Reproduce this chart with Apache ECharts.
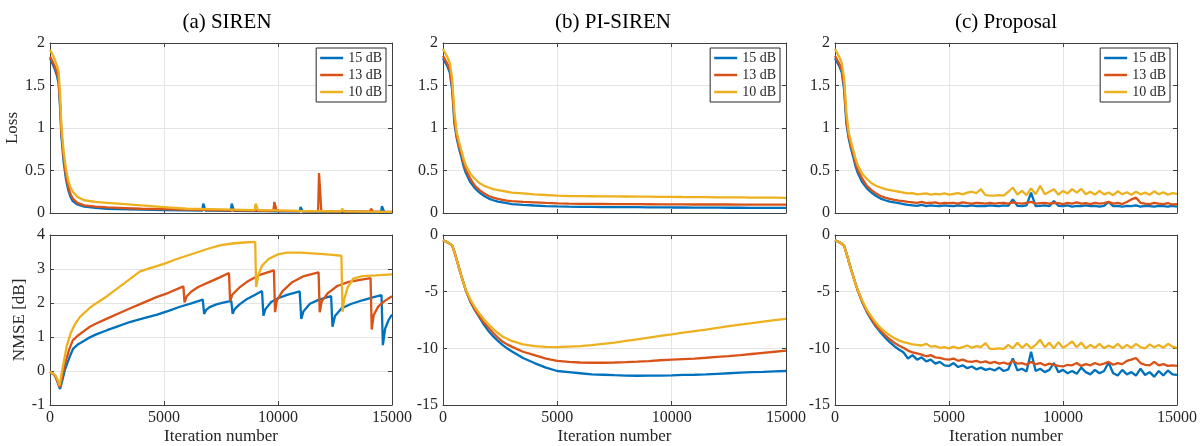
<!DOCTYPE html>
<html><head><meta charset="utf-8">
<script src="https://cdn.jsdelivr.net/npm/echarts@6/dist/echarts.min.js"></script>
<style>html,body{margin:0;padding:0;background:#fff}#c{width:1202px;height:446px}</style>
</head><body><div id="c"></div><script>
// ---------------- DATA ----------------
const seriesNames = ['15 dB', '13 dB', '10 dB'];
const panelTitles = ['(a) SIREN', '(b) PI-SIREN', '(c) Proposal'];
const xTicks = [0, 5000, 10000, 15000];
const lossTicks = [0, 0.5, 1, 1.5, 2];
const nmseTicksSiren = [-1, 0, 1, 2, 3, 4];
const nmseTicksOther = [-15, -10, -5, 0];

const earlyIter = [0,100,200,300,400,500,600,700,800,900,1000,1200,1400,1600,1800,2000,2200,2400,2600,2800,3000];
const piLateIter = [3500,4000,4500,5000,5500,6000,6500,7000,7500,8000,8500,9000,9500,10000,10500,11000,11500,12000,12500,13000,13500,14000,14500,15000];
const propLateIter = [3200,3400,3600,3800,4000,4200,4400,4600,4800,5000,
  5200,5400,5600,5800,6000,6200,6400,6600,6800,7000,
  7200,7400,7600,7800,8000,8200,8400,8600,8800,9000,
  9200,9400,9600,9800,10000,10200,10400,10600,10800,11000,
  11200,11400,11600,11800,12000,12200,12400,12600,12800,13000,
  13200,13400,13600,13800,14000,14200,14400,14600,14800,15000];

// (a) SIREN loss  [iteration, loss]
const sirenLoss15 = [[0,1.82],[100,1.76],[200,1.70],[300,1.62],[380,1.52],[450,1.2],[500,0.9],[600,0.6],[700,0.4],[800,0.27],[900,0.19],[1000,0.14],[1200,0.1],[1500,0.075],[2000,0.06],[2500,0.05],[3000,0.045],[4000,0.04],[5000,0.035],[6000,0.03],[6680,0.029],[6720,0.11],[6780,0.11],[6820,0.029],[7000,0.028],[7930,0.026],[7970,0.11],[8030,0.11],[8070,0.025],[9000,0.022],[9290,0.022],[9330,0.035],[9380,0.022],[10000,0.02],[10950,0.019],[10990,0.07],[11040,0.07],[11080,0.018],[12000,0.016],[12340,0.015],[12380,0.035],[12420,0.015],[13000,0.014],[14000,0.012],[14520,0.012],[14560,0.08],[14620,0.08],[14660,0.011],[15000,0.01]];
const sirenLoss13 = [[0,1.84],[100,1.79],[200,1.73],[300,1.66],[380,1.56],[450,1.25],[500,0.95],[600,0.65],[700,0.44],[800,0.31],[900,0.22],[1000,0.17],[1200,0.12],[1500,0.09],[2000,0.075],[2500,0.065],[3000,0.06],[4000,0.05],[5000,0.045],[5840,0.04],[5870,0.055],[5910,0.04],[6000,0.04],[7000,0.035],[7830,0.031],[7860,0.045],[7900,0.03],[9000,0.028],[9800,0.025],[9840,0.13],[9900,0.13],[9940,0.025],[11000,0.022],[11760,0.02],[11800,0.47],[11860,0.47],[11900,0.02],[13000,0.018],[14040,0.015],[14080,0.05],[14130,0.05],[14170,0.015],[15000,0.013]];
const sirenLoss10 = [[0,1.92],[100,1.87],[200,1.81],[300,1.74],[380,1.66],[450,1.35],[500,1.02],[600,0.72],[700,0.52],[800,0.38],[900,0.3],[1000,0.25],[1200,0.19],[1500,0.15],[2000,0.13],[2500,0.12],[3000,0.11],[4000,0.09],[5000,0.07],[6000,0.05],[7000,0.045],[8000,0.04],[8980,0.035],[9020,0.11],[9080,0.11],[9120,0.034],[10000,0.03],[11000,0.025],[12000,0.022],[12770,0.02],[12810,0.05],[12860,0.05],[12900,0.02],[14000,0.016],[15000,0.014]];

// (a) SIREN NMSE [iteration, dB]
const sirenNmse15 = [[0,-0.02],[220,-0.14],[300,-0.27],[440,-0.53],[550,-0.25],[660,0.05],[880,0.45],[1020,0.66],[1200,0.77],[1500,0.89],[1750,0.99],[2000,1.07],[2500,1.2],[3000,1.32],[3500,1.44],[4000,1.53],[4700,1.66],[5200,1.77],[5700,1.89],[6200,1.99],[6700,2.1],[6760,1.68],[6850,1.80],[7000,1.88],[7300,1.96],[7600,2.01],[7950,2.06],[8010,1.68],[8100,1.82],[8300,1.95],[8600,2.10],[9000,2.24],[9300,2.35],[9360,1.63],[9450,1.82],[9700,2.03],[10000,2.14],[10400,2.24],[10950,2.34],[11020,1.53],[11120,1.76],[11400,1.98],[11800,2.1],[12330,2.2],[12390,1.30],[12500,1.62],[12800,1.85],[13200,1.97],[13700,2.08],[14200,2.17],[14540,2.23],[14600,0.76],[14700,1.25],[14850,1.50],[15000,1.66]];
const sirenNmse13 = [[0,-0.02],[220,-0.13],[300,-0.25],[430,-0.48],[540,-0.15],[650,0.2],[850,0.65],[1000,0.9],[1200,1.03],[1500,1.18],[1750,1.3],[2000,1.39],[2500,1.54],[3000,1.69],[3500,1.84],[4000,1.98],[4700,2.18],[5200,2.3],[5850,2.49],[5900,2.02],[6000,2.2],[6200,2.34],[6500,2.47],[7000,2.62],[7400,2.74],[7850,2.88],[7900,2.05],[8000,2.25],[8300,2.45],[8700,2.65],[9200,2.83],[9820,2.96],[9870,1.73],[9950,2.08],[10200,2.35],[10600,2.6],[11100,2.78],[11780,2.9],[11830,1.73],[11920,2.05],[12200,2.3],[12600,2.5],[13100,2.62],[13600,2.68],[14060,2.73],[14110,1.22],[14200,1.65],[14400,1.9],[14700,2.07],[15000,2.2]];
const sirenNmse10 = [[0,-0.02],[220,-0.12],[300,-0.2],[420,-0.43],[530,0.0],[730,0.73],[900,1.1],[1100,1.38],[1300,1.58],[1460,1.68],[1750,1.86],[2000,1.98],[2500,2.2],[3000,2.45],[3500,2.7],[3950,2.93],[4500,3.05],[5000,3.15],[5500,3.28],[6000,3.39],[6500,3.5],[7000,3.61],[7500,3.7],[8000,3.75],[8500,3.78],[9000,3.8],[9040,2.47],[9150,2.85],[9300,3.1],[9600,3.3],[10000,3.43],[10400,3.48],[11000,3.48],[11500,3.46],[12000,3.44],[12500,3.41],[12780,3.39],[12830,1.74],[12900,2.1],[13050,2.45],[13300,2.72],[13700,2.79],[14300,2.81],[15000,2.84]];

// (b) PI-SIREN loss (earlyIter + piLateIter)
const piLoss15 = [1.82,1.77,1.72,1.65,1.45,1.05,0.88,0.76,0.66,0.55,0.47,0.36,0.29,0.24,0.20,0.17,0.15,0.135,0.125,0.115,0.105,
  0.095,0.088,0.082,0.078,0.075,0.073,0.072,0.07,0.07,0.068,0.068,0.067,0.066,0.065,0.065,0.064,0.063,0.063,0.062,0.062,0.061,0.061,0.06,0.06];
const piLoss13 = [1.85,1.80,1.75,1.68,1.50,1.10,0.90,0.79,0.70,0.59,0.51,0.40,0.32,0.27,0.23,0.20,0.18,0.165,0.155,0.145,0.14,
  0.13,0.125,0.118,0.113,0.11,0.108,0.107,0.106,0.105,0.104,0.104,0.103,0.102,0.102,0.101,0.1,0.1,0.1,0.1,0.099,0.099,0.098,0.098,0.098];
const piLoss10 = [1.93,1.88,1.83,1.76,1.58,1.18,0.95,0.84,0.74,0.64,0.56,0.46,0.40,0.35,0.32,0.30,0.28,0.27,0.26,0.25,0.24,
  0.23,0.22,0.212,0.205,0.2,0.198,0.197,0.196,0.195,0.194,0.193,0.192,0.19,0.19,0.188,0.187,0.186,0.185,0.184,0.183,0.182,0.181,0.18,0.178];

// (b) PI-SIREN NMSE (earlyIter + piLateIter)
const piNmse15 = [-0.45,-0.55,-0.65,-0.78,-0.92,-1.5,-2.2,-2.9,-3.6,-4.25,-4.9,-5.9,-6.65,-7.3,-7.95,-8.5,-8.95,-9.35,-9.7,-10.0,-10.25,
  -10.85,-11.3,-11.7,-12.0,-12.1,-12.2,-12.3,-12.33,-12.37,-12.4,-12.42,-12.4,-12.4,-12.38,-12.35,-12.33,-12.3,-12.25,-12.2,-12.15,-12.1,-12.07,-12.03,-12.0];
const piNmse13 = [-0.45,-0.55,-0.65,-0.78,-0.92,-1.5,-2.2,-2.9,-3.6,-4.25,-4.9,-5.85,-6.6,-7.2,-7.75,-8.2,-8.65,-9.05,-9.4,-9.65,-9.85,
  -10.3,-10.6,-10.9,-11.1,-11.2,-11.25,-11.27,-11.27,-11.25,-11.22,-11.18,-11.12,-11.05,-11.0,-10.95,-10.9,-10.83,-10.75,-10.68,-10.6,-10.5,-10.4,-10.3,-10.2];
const piNmse10 = [-0.45,-0.55,-0.65,-0.78,-0.92,-1.5,-2.2,-2.9,-3.6,-4.25,-4.85,-5.7,-6.4,-6.95,-7.45,-7.9,-8.3,-8.65,-8.95,-9.15,-9.35,
  -9.65,-9.8,-9.88,-9.9,-9.85,-9.8,-9.72,-9.6,-9.5,-9.35,-9.2,-9.05,-8.9,-8.77,-8.62,-8.48,-8.35,-8.2,-8.05,-7.9,-7.78,-7.65,-7.52,-7.4];

// (c) Proposal loss (earlyIter + propLateIter)
const propLoss15 = [1.82,1.77,1.72,1.65,1.45,1.05,0.88,0.76,0.66,0.55,0.47,0.36,0.29,0.24,0.20,0.17,0.15,0.135,0.125,0.115,0.105,
  0.095,0.09,0.085,0.095,0.08,0.09,0.085,0.08,0.09,0.085,
  0.08,0.09,0.085,0.08,0.09,0.08,0.085,0.08,0.09,0.085,
  0.08,0.09,0.085,0.16,0.085,0.08,0.09,0.24,0.08,0.085,
  0.09,0.08,0.14,0.085,0.08,0.09,0.075,0.085,0.08,0.09,
  0.08,0.085,0.075,0.085,0.13,0.08,0.085,0.075,0.085,0.08,
  0.09,0.075,0.085,0.08,0.075,0.085,0.08,0.075,0.085,0.075];
const propLoss13 = [1.85,1.80,1.75,1.68,1.50,1.10,0.90,0.79,0.70,0.59,0.51,0.40,0.32,0.27,0.23,0.20,0.18,0.165,0.155,0.145,0.14,
  0.13,0.125,0.12,0.13,0.115,0.12,0.125,0.11,0.12,0.115,
  0.12,0.11,0.125,0.115,0.11,0.12,0.115,0.11,0.12,0.11,
  0.115,0.12,0.11,0.125,0.115,0.11,0.12,0.13,0.11,0.115,
  0.12,0.11,0.12,0.115,0.105,0.12,0.11,0.125,0.11,0.115,
  0.105,0.12,0.11,0.115,0.13,0.11,0.12,0.105,0.13,0.16,
  0.18,0.12,0.11,0.105,0.12,0.11,0.105,0.115,0.1,0.105];
const propLoss10 = [1.93,1.88,1.83,1.76,1.58,1.18,0.95,0.84,0.74,0.64,0.56,0.46,0.40,0.35,0.32,0.30,0.28,0.27,0.26,0.25,0.24,
  0.23,0.235,0.22,0.225,0.23,0.215,0.225,0.22,0.23,0.215,
  0.225,0.235,0.22,0.24,0.25,0.235,0.28,0.21,0.205,0.205,
  0.21,0.205,0.25,0.30,0.215,0.26,0.21,0.29,0.22,0.32,
  0.22,0.25,0.28,0.215,0.26,0.23,0.28,0.24,0.285,0.22,
  0.25,0.215,0.26,0.22,0.24,0.21,0.255,0.22,0.245,0.215,
  0.25,0.22,0.24,0.215,0.255,0.22,0.245,0.215,0.235,0.225];

// (c) Proposal NMSE (earlyIter + propLateIter)
const propNmse15 = [-0.45,-0.55,-0.65,-0.78,-0.95,-1.6,-2.3,-3.0,-3.65,-4.3,-4.9,-5.95,-6.8,-7.5,-8.1,-8.6,-9.05,-9.45,-9.8,-10.1,-10.35,
  -10.9,-10.6,-11.0,-10.8,-11.15,-11.0,-11.35,-11.2,-11.5,-11.55,
  -11.3,-11.65,-11.5,-11.75,-11.6,-11.85,-11.7,-11.9,-11.8,-11.95,
  -11.7,-12.0,-11.85,-10.9,-11.95,-11.8,-12.05,-10.3,-12.0,-11.8,
  -12.1,-11.9,-11.3,-12.1,-11.9,-12.2,-12.0,-12.25,-11.7,-12.1,
  -12.3,-11.9,-12.2,-12.0,-11.25,-12.2,-12.4,-11.9,-12.3,-12.1,
  -12.4,-11.8,-12.35,-12.1,-12.5,-12.0,-12.4,-11.95,-12.3,-12.35];
const propNmse13 = [-0.45,-0.55,-0.65,-0.78,-0.95,-1.6,-2.3,-3.0,-3.65,-4.3,-4.9,-5.9,-6.75,-7.4,-8.0,-8.45,-8.85,-9.2,-9.5,-9.75,-9.95,
  -10.2,-10.35,-10.45,-10.55,-10.7,-10.6,-10.8,-10.85,-10.95,-11.0,
  -10.9,-11.1,-11.0,-11.15,-11.2,-11.1,-11.25,-11.15,-11.3,-11.2,
  -11.35,-11.25,-11.4,-11.1,-11.35,-11.3,-11.45,-11.2,-11.4,-11.3,
  -11.5,-11.35,-11.45,-11.55,-11.6,-11.45,-11.5,-11.3,-11.55,-11.4,
  -11.5,-11.3,-11.45,-11.35,-11.2,-11.45,-11.3,-11.4,-11.1,-11.0,
  -10.85,-11.3,-11.45,-11.5,-11.2,-11.5,-11.4,-11.55,-11.5,-11.55];
const propNmse10 = [-0.45,-0.55,-0.65,-0.78,-0.95,-1.6,-2.3,-3.0,-3.65,-4.3,-4.85,-5.8,-6.6,-7.2,-7.75,-8.2,-8.55,-8.85,-9.1,-9.3,-9.45,
  -9.55,-9.65,-9.7,-9.75,-9.6,-9.85,-9.8,-9.95,-9.9,-10.0,
  -9.85,-10.0,-9.9,-9.75,-9.95,-9.8,-9.9,-9.55,-10.05,-10.05,
  -10.0,-10.05,-9.7,-10.0,-9.5,-9.95,-9.6,-10.0,-9.7,-9.25,
  -9.9,-9.5,-10.0,-9.45,-9.95,-9.7,-9.4,-9.9,-9.5,-10.0,
  -9.7,-9.95,-9.6,-10.0,-9.75,-9.95,-9.6,-10.0,-9.7,-9.95,
  -9.6,-9.9,-10.0,-9.65,-9.9,-9.7,-9.95,-9.6,-9.85,-9.95];

// ---------------- CHART ----------------
const FONT = '"Liberation Serif","Times New Roman",serif';
const AX = '#404040';
const TXT = '#262626';
const COLORS = ['#0072BD', '#D95319', '#EDB120'];

const zip = (xs, ys) => xs.map((x, i) => [x, ys[i]]);
const piIter = earlyIter.concat(piLateIter);
const propIter = earlyIter.concat(propLateIter);

const grids = [
  {left: 50,  top: 43,  width: 342, height: 170},
  {left: 50,  top: 235, width: 342, height: 171},
  {left: 443, top: 43,  width: 343, height: 170},
  {left: 443, top: 235, width: 343, height: 171},
  {left: 835, top: 43,  width: 342, height: 170},
  {left: 835, top: 235, width: 342, height: 171}
];

const panelData = [
  [sirenLoss15, sirenLoss13, sirenLoss10],
  [sirenNmse15, sirenNmse13, sirenNmse10],
  [zip(piIter, piLoss15), zip(piIter, piLoss13), zip(piIter, piLoss10)],
  [zip(piIter, piNmse15), zip(piIter, piNmse13), zip(piIter, piNmse10)],
  [zip(propIter, propLoss15), zip(propIter, propLoss13), zip(propIter, propLoss10)],
  [zip(propIter, propNmse15), zip(propIter, propNmse13), zip(propIter, propNmse10)]
];

const yTicksFor = i => (i % 2 === 0) ? lossTicks : (i === 1 ? nmseTicksSiren : nmseTicksOther);
const plain = v => String(v);

const xAxis = [], yAxis = [];
for (let i = 0; i < 6; i++) {
  const bottomRow = i % 2 === 1;
  xAxis.push({
    gridIndex: i, type: 'value', position: 'bottom',
    min: xTicks[0], max: xTicks[xTicks.length - 1], interval: xTicks[1] - xTicks[0],
    axisLine: {show: true, onZero: false, lineStyle: {color: AX, width: 1}},
    axisTick: {show: true, inside: true, length: 4, lineStyle: {color: AX}},
    axisLabel: {show: bottomRow, color: TXT, fontFamily: FONT, fontSize: 16, margin: 5, formatter: plain},
    splitLine: {show: true, lineStyle: {color: '#e4e4e4', width: 1}},
    name: bottomRow ? 'Iteration number' : '', nameLocation: 'middle', nameGap: 23,
    nameTextStyle: {color: TXT, fontFamily: FONT, fontSize: 17}
  });
}
for (let i = 0; i < 6; i++) {
  xAxis.push({
    gridIndex: i, type: 'value', position: 'top',
    min: xTicks[0], max: xTicks[xTicks.length - 1], interval: xTicks[1] - xTicks[0],
    axisLine: {show: true, onZero: false, lineStyle: {color: AX, width: 1}},
    axisTick: {show: true, inside: true, length: 4, lineStyle: {color: AX}},
    axisLabel: {show: false}, splitLine: {show: false}
  });
}
for (let i = 0; i < 6; i++) {
  const t = yTicksFor(i);
  let name = '';
  if (i === 0) name = 'Loss';
  if (i === 1) name = 'NMSE [dB]';
  yAxis.push({
    gridIndex: i, type: 'value', position: 'left',
    min: t[0], max: t[t.length - 1], interval: t[1] - t[0],
    axisLine: {show: true, onZero: false, lineStyle: {color: AX, width: 1}},
    axisTick: {show: true, inside: true, length: 4, lineStyle: {color: AX}},
    axisLabel: {show: true, color: TXT, fontFamily: FONT, fontSize: 16, margin: 5, formatter: plain},
    splitLine: {show: true, lineStyle: {color: '#e4e4e4', width: 1}},
    name: name, nameLocation: 'middle', nameGap: i === 0 ? 25 : 20,
    nameTextStyle: {color: TXT, fontFamily: FONT, fontSize: 17}
  });
}
for (let i = 0; i < 6; i++) {
  const t = yTicksFor(i);
  yAxis.push({
    gridIndex: i, type: 'value', position: 'right',
    min: t[0], max: t[t.length - 1], interval: t[1] - t[0],
    axisLine: {show: true, onZero: false, lineStyle: {color: AX, width: 1}},
    axisTick: {show: true, inside: true, length: 4, lineStyle: {color: AX}},
    axisLabel: {show: false}, splitLine: {show: false}
  });
}

const series = [];
for (let i = 0; i < 6; i++) {
  for (let k = 0; k < 3; k++) {
    series.push({
      type: 'line', name: seriesNames[k], xAxisIndex: i, yAxisIndex: i,
      data: panelData[i][k], symbol: 'none', showSymbol: false,
      lineStyle: {color: COLORS[k], width: 2.3}, itemStyle: {color: COLORS[k]},
      z: 2 + k, clip: true, animation: false
    });
  }
}

const legendRights = [816, 422, 32];
const legend = legendRights.map(r => ({
  data: seriesNames, orient: 'vertical', right: r, top: 48,
  icon: 'rect', itemWidth: 23, itemHeight: 2.5, itemGap: 3, itemTextGap: 3,
  padding: [3, 4, 3, 4], borderColor: '#262626', borderWidth: 1, backgroundColor: '#fff',
  selectedMode: false,
  textStyle: {color: TXT, fontFamily: FONT, fontSize: 14}
}));

const titleX = [227, 613, 1006];
const graphic = panelTitles.map((t, i) => ({
  type: 'text', x: titleX[i], y: 22,
  style: {text: t, fill: '#000', font: '21px "Liberation Serif","Times New Roman",serif',
          textAlign: 'center', textVerticalAlign: 'middle'}
}));

const chart = echarts.init(document.getElementById('c'));
chart.setOption({
  animation: false, backgroundColor: '#fff',
  grid: grids, xAxis, yAxis, series, legend, graphic
});
</script></body></html>
